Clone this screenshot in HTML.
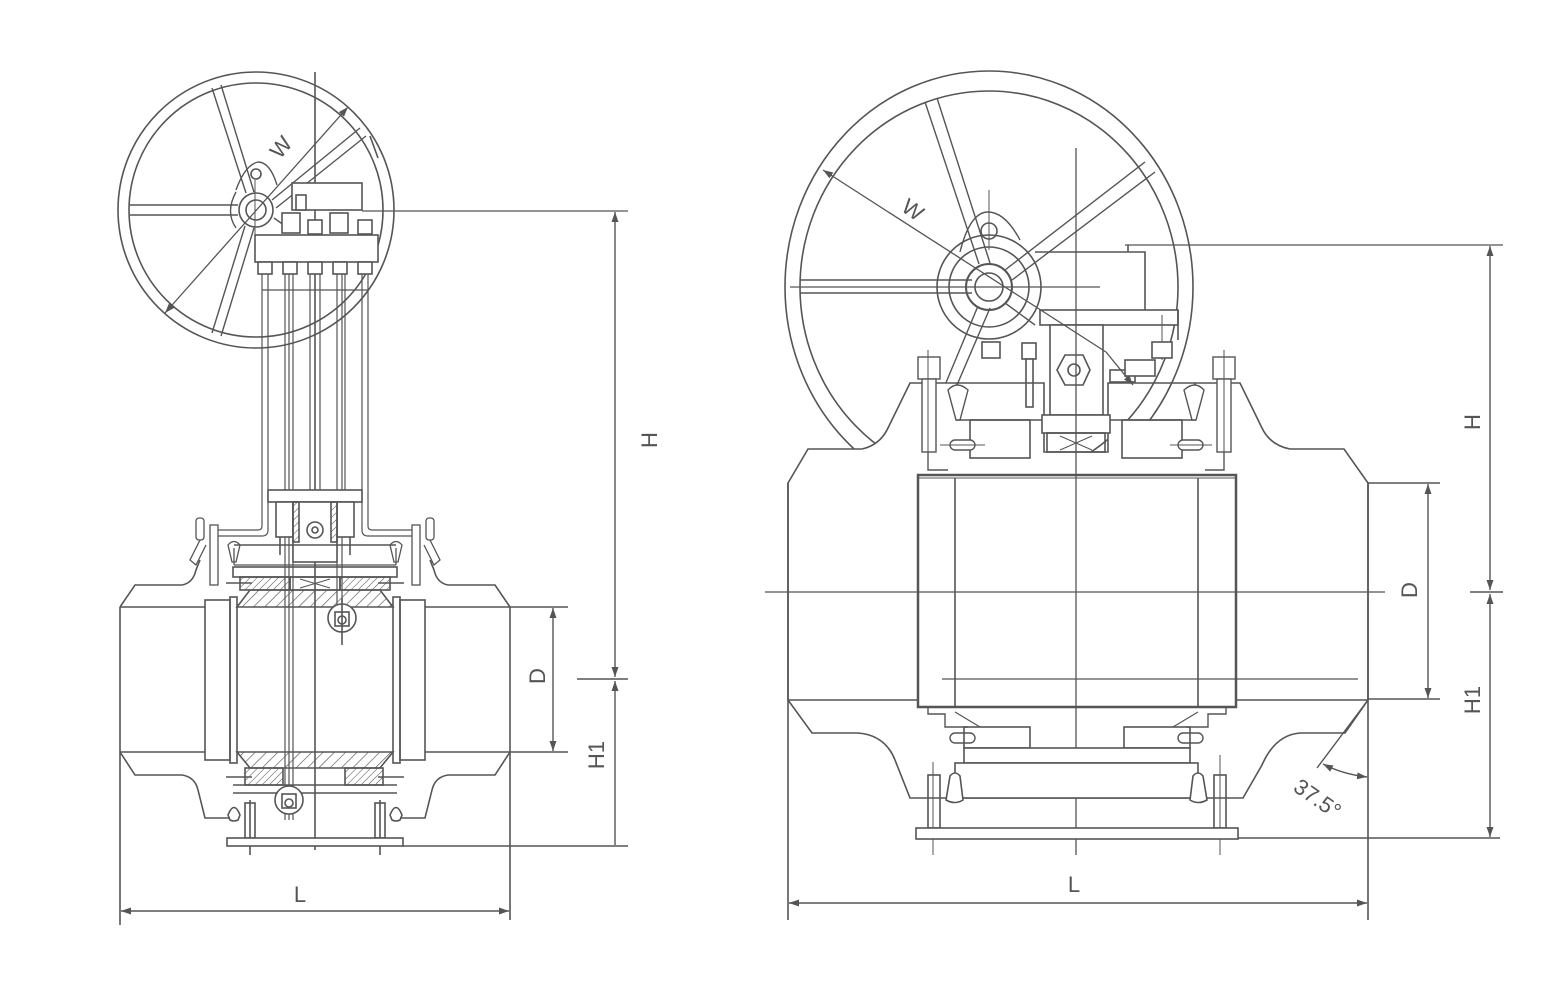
<!DOCTYPE html>
<html><head><meta charset="utf-8"><style>
html,body{margin:0;padding:0;background:#fff;}
svg{display:block;}
text{font-family:"Liberation Sans",sans-serif;fill:#555;stroke:none;font-size:22px;}
</style></head><body>
<svg width="1547" height="987" viewBox="0 0 1547 987" xmlns="http://www.w3.org/2000/svg">
<defs>
<pattern id="h1" patternUnits="userSpaceOnUse" width="8" height="8" patternTransform="rotate(45)"><line x1="0" y1="0" x2="0" y2="8" stroke="#555" stroke-width="1.3"/></pattern>
<pattern id="h2" patternUnits="userSpaceOnUse" width="5" height="5" patternTransform="rotate(45)"><line x1="0" y1="0" x2="0" y2="5" stroke="#555" stroke-width="1.1"/></pattern>
<marker id="a" viewBox="0 0 10 10" refX="10" refY="5" markerWidth="10" markerHeight="10" markerUnits="userSpaceOnUse" orient="auto-start-reverse"><path d="M0,1.5 L10,5 L0,8.5z" fill="#555" stroke="none"/></marker>
</defs>
<g fill="none" stroke="#555" stroke-width="1.6">

<!-- ================= LEFT VIEW ================= -->
<circle cx="256" cy="210" r="138"/>
<circle cx="256" cy="210" r="127"/>
<g stroke-width="1.4">
<line x1="130" y1="205" x2="238" y2="205"/><line x1="130" y1="215" x2="238" y2="215"/>
<line x1="212" y1="88" x2="246" y2="193"/><line x1="221" y1="85" x2="254" y2="192"/>
<line x1="212" y1="333" x2="245" y2="226"/><line x1="221" y1="336" x2="254" y2="228"/>
<line x1="272" y1="200" x2="360" y2="128"/><line x1="276" y1="208" x2="366" y2="136"/>
<line x1="274" y1="218" x2="295" y2="233"/>
<path d="M236,190 Q245,165 258,162 Q270,162 277,185"/>
<path d="M236,228 Q225,212 236,192"/>
</g>
<circle cx="256" cy="210" r="17"/><circle cx="256" cy="210" r="10"/>
<circle cx="256" cy="174" r="5"/>
<line x1="370" y1="136" x2="378" y2="158"/>
<line x1="315" y1="72" x2="315" y2="850"/>
<line x1="255" y1="180" x2="255" y2="240" stroke-width="1"/>
<line x1="165" y1="313" x2="348" y2="107" stroke-width="1.3" marker-start="url(#a)" marker-end="url(#a)"/>
<text x="0" y="0" transform="translate(280,160) rotate(-50)" font-size="20">W</text>
<rect x="292" y="183" width="70" height="27" fill="#fff"/>
<rect x="296" y="195" width="10" height="15" fill="#fff"/>
<rect x="255" y="235" width="123" height="27" fill="#fff"/>
<g fill="#fff">
<rect x="282" y="213" width="18" height="20"/><rect x="308" y="220" width="14" height="14"/><rect x="330" y="213" width="18" height="20"/><rect x="358" y="220" width="14" height="14"/>
<rect x="258" y="262" width="14" height="12"/><rect x="283" y="262" width="14" height="12"/><rect x="308" y="262" width="14" height="12"/><rect x="333" y="262" width="14" height="12"/><rect x="358" y="262" width="14" height="12"/>
</g>
<line x1="362" y1="211" x2="628" y2="211" stroke-width="1.3"/>
<g stroke-width="1.2">
<path d="M262,274 V526 Q262,530 258,530 H215"/><path d="M268,274 V530 Q268,536 262,536 H215"/>
<path d="M368,274 V526 Q368,530 372,530 H415"/><path d="M362,274 V530 Q362,536 368,536 H415"/>
<line x1="285" y1="274" x2="285" y2="820"/><line x1="289" y1="274" x2="289" y2="820"/><line x1="293" y1="274" x2="293" y2="820"/>
<line x1="310" y1="274" x2="310" y2="490"/><line x1="320" y1="274" x2="320" y2="490"/>
<line x1="337" y1="274" x2="337" y2="610"/><line x1="342" y1="274" x2="342" y2="610"/><line x1="345" y1="274" x2="345" y2="490"/>
<line x1="262" y1="290" x2="368" y2="290"/>
</g>
<rect x="268" y="490" width="94" height="12" fill="#fff"/>
<rect x="276" y="502" width="17" height="35" fill="#fff"/><rect x="337" y="502" width="17" height="35" fill="#fff"/>
<rect x="293" y="502" width="44" height="60" fill="#fff"/>
<rect x="293" y="502" width="6" height="40" fill="url(#h2)"/><rect x="331" y="502" width="6" height="40" fill="url(#h2)"/>
<circle cx="315" cy="530" r="8"/><circle cx="315" cy="530" r="3"/>
<line x1="280" y1="537" x2="280" y2="555"/><line x1="350" y1="537" x2="350" y2="555"/>
<line x1="234" y1="545" x2="396" y2="545"/>
<g stroke-width="1.3">
<rect x="210" y="525" width="8" height="60" fill="#fff"/><rect x="412" y="525" width="8" height="60" fill="#fff"/>
<rect x="196" y="518" width="8" height="22" rx="3"/><rect x="426" y="518" width="8" height="22" rx="3"/>
<path d="M200,540 L190,560 L196,565 L206,545"/><path d="M430,540 L440,560 L434,565 L424,545"/>
<path d="M228,545 Q234,538 240,545 L236,562 L232,562z"/><path d="M402,545 Q396,538 390,545 L394,562 L398,562z"/>
<line x1="234" y1="565" x2="234" y2="548"/><line x1="396" y1="565" x2="396" y2="548"/>
<line x1="234" y1="565" x2="396" y2="565"/>
</g>
<path d="M120,607 L135,585 L182,585 Q193,583 196,570 L200,560" />
<path d="M510,607 L495,585 L448,585 Q437,583 434,570 L430,560" />
<path d="M120,752 L135,775 L182,775 Q195,777 198,790 L205,818 L230,818"/>
<path d="M510,752 L495,775 L448,775 Q435,777 432,790 L425,818 L400,818"/>
<line x1="120" y1="607" x2="120" y2="925"/>
<line x1="510" y1="607" x2="510" y2="920"/>
<line x1="120" y1="607" x2="205" y2="607"/><line x1="425" y1="607" x2="568" y2="607"/>
<line x1="120" y1="752" x2="205" y2="752"/><line x1="425" y1="752" x2="568" y2="752"/>
<rect x="205" y="600" width="25" height="160" fill="#fff"/><rect x="400" y="600" width="25" height="160" fill="#fff"/>
<rect x="230" y="597" width="7" height="166"/><rect x="393" y="597" width="7" height="166"/>
<rect x="233" y="567" width="164" height="10"/>
<rect x="240" y="577" width="50" height="13" fill="url(#h2)"/><rect x="340" y="577" width="50" height="13" fill="url(#h2)"/>
<rect x="290" y="577" width="50" height="13"/>
<path d="M300,579 L330,588 M300,588 L330,579" stroke-width="1"/>
<path d="M237,607 L250,590 H380 L393,607z" fill="url(#h1)"/>
<line x1="226" y1="583" x2="252" y2="583"/><line x1="378" y1="583" x2="404" y2="583"/>
<path d="M237,752 L250,768 H380 L393,752z" fill="url(#h1)"/>
<rect x="245" y="768" width="38" height="17" fill="url(#h2)"/><rect x="345" y="768" width="38" height="17" fill="url(#h2)"/>
<line x1="226" y1="777" x2="252" y2="777"/><line x1="378" y1="777" x2="404" y2="777"/>
<line x1="233" y1="785" x2="397" y2="785"/><line x1="233" y1="793" x2="397" y2="793"/>
<circle cx="342" cy="618" r="14" fill="#fff"/><rect x="335" y="612" width="14" height="14"/><circle cx="342" cy="620" r="4"/>
<circle cx="289" cy="800" r="14" fill="#fff"/><rect x="282" y="794" width="14" height="14"/><circle cx="289" cy="803" r="4"/>
<line x1="342" y1="598" x2="342" y2="645"/>
<path d="M228,815 Q234,800 240,815 L238,820 Q234,822 230,820z"/><path d="M402,815 Q396,800 390,815 L392,820 Q396,822 400,820z"/>
<rect x="245" y="803" width="10" height="35"/><rect x="375" y="803" width="10" height="35"/>
<line x1="250" y1="800" x2="250" y2="855"/><line x1="380" y1="800" x2="380" y2="855"/>
<rect x="227" y="838" width="176" height="8" fill="#fff"/>
<g stroke-width="1.4">
<line x1="615" y1="212" x2="615" y2="677" marker-start="url(#a)" marker-end="url(#a)"/>
<line x1="615" y1="681" x2="615" y2="845" marker-start="url(#a)"/>
<line x1="577" y1="679" x2="628" y2="679"/>
<line x1="403" y1="846" x2="628" y2="846"/>
<line x1="553" y1="608" x2="553" y2="751" marker-start="url(#a)" marker-end="url(#a)"/>
<line x1="121" y1="911" x2="509" y2="911" marker-start="url(#a)" marker-end="url(#a)"/>
</g>
<text transform="translate(657,440) rotate(-90)" text-anchor="middle">H</text>
<text transform="translate(545,676) rotate(-90)" text-anchor="middle">D</text>
<text transform="translate(604,755) rotate(-90)" text-anchor="middle">H1</text>
<text x="300" y="902" text-anchor="middle">L</text>

<!-- ================= RIGHT VIEW ================= -->
<ellipse cx="989" cy="287" rx="204" ry="216"/>
<ellipse cx="989" cy="287" rx="189" ry="196"/>
<g stroke-width="1.4">
<line x1="800" y1="280" x2="972" y2="280"/><line x1="800" y1="293" x2="972" y2="293"/>
<line x1="925" y1="102" x2="979" y2="264"/><line x1="937" y1="98" x2="990" y2="263"/>
<line x1="945" y1="385" x2="978" y2="306"/><line x1="957" y1="385" x2="990" y2="308"/>
<line x1="1005" y1="270" x2="1145" y2="162"/><line x1="1012" y1="280" x2="1155" y2="172"/>
<line x1="1005" y1="303" x2="1035" y2="325"/>
<path d="M960,252 Q970,212 988,212 Q1005,212 1020,240"/>
</g>
<circle cx="989" cy="287" r="52"/><circle cx="989" cy="287" r="40"/>
<circle cx="989" cy="287" r="23" stroke-width="2"/><circle cx="989" cy="287" r="14"/>
<circle cx="989" cy="231" r="8"/>
<line x1="989" y1="190" x2="989" y2="250" stroke-width="1"/>
<line x1="790" y1="287" x2="1100" y2="287" stroke-width="1.2"/>
<path d="M1035,252 H1145 V310" />
<rect x="1040" y="310" width="138" height="15" fill="#fff"/>
<line x1="1178" y1="310" x2="1178" y2="340"/>
<line x1="1125" y1="245" x2="1503" y2="245" stroke-width="1.3"/>
<line x1="1128" y1="245" x2="1128" y2="252"/>
<line x1="1162" y1="315" x2="1162" y2="360" stroke-width="1"/>
<rect x="1050" y="325" width="53" height="90" fill="#fff"/>
<g fill="#fff">
<path d="M1057,370 L1065,355 H1083 L1090,370 L1083,385 H1065z"/>
<rect x="982" y="342" width="18" height="16"/><rect x="1152" y="342" width="20" height="16"/>
<rect x="1022" y="343" width="14" height="16"/><rect x="1026" y="359" width="7" height="48"/>
<rect x="1110" y="370" width="25" height="12"/><rect x="1125" y="360" width="30" height="16"/>
</g>
<circle cx="1074" cy="370" r="6"/>
<line x1="1106" y1="352" x2="1133" y2="385" stroke-width="1.3" marker-end="url(#a)"/>
<line x1="823" y1="170" x2="1106" y2="352" stroke-width="1.3" marker-start="url(#a)"/>
<text transform="translate(900,210) rotate(35)" font-size="20">W</text>
<path d="M788,483 L808,449 L862,449 Q880,445 888,428 L910,383 L957,383 L957,420 L1044,420 L1044,452 L1108,452 L1108,420 L1195,420 L1195,383 L1240,383 L1262,428 Q1270,445 1290,449 L1344,449 L1368,483 L1368,700 L1345,733 L1300,733 Q1275,735 1262,765 L1243,798 L910,798 L895,760 Q885,735 858,733 L812,733 L788,700z" fill="#fff"/>
<path d="M957,383 L1044,383 L1044,420 M1108,420 L1108,383 L1195,383" />
<rect x="1042" y="415" width="68" height="18" fill="#fff"/>
<rect x="1047" y="433" width="58" height="19"/>
<path d="M1060,436 L1092,450 M1060,450 L1092,436" stroke-width="1.1"/>
<rect x="970" y="420" width="60" height="38"/><rect x="1122" y="420" width="60" height="38"/>
<g fill="#fff" stroke-width="1.4">
<rect x="918" y="357" width="22" height="22"/><rect x="922" y="379" width="14" height="73"/>
<rect x="1213" y="357" width="22" height="22"/><rect x="1217" y="379" width="14" height="73"/>
<path d="M948,390 Q957,380 968,390 L960,420 L956,420z"/><path d="M1204,390 Q1195,380 1184,390 L1192,420 L1196,420z"/>
<rect x="950" y="440" width="25" height="10" rx="5"/><rect x="1178" y="440" width="25" height="10" rx="5"/>
<rect x="950" y="733" width="25" height="10" rx="5"/><rect x="1178" y="733" width="25" height="10" rx="5"/>
</g>
<line x1="928" y1="350" x2="928" y2="470" stroke-width="1"/><line x1="1224" y1="350" x2="1224" y2="470" stroke-width="1"/>
<line x1="940" y1="445" x2="985" y2="445" stroke-width="1"/><line x1="1170" y1="445" x2="1212" y2="445" stroke-width="1"/>
<path d="M928,452 V470 H948 M1224,452 V470 H1205" stroke-width="1.4"/>
<line x1="788" y1="483" x2="788" y2="920"/>
<line x1="1368" y1="483" x2="1368" y2="920"/>
<line x1="1368" y1="483" x2="1440" y2="483"/><line x1="1368" y1="699" x2="1440" y2="699"/>
<rect x="918" y="475" width="318" height="232" stroke-width="2.5"/>
<line x1="955" y1="478" x2="955" y2="707"/><line x1="1198" y1="478" x2="1198" y2="707"/>
<line x1="918" y1="478" x2="1236" y2="478" stroke-width="1"/>
<line x1="942" y1="679" x2="1358" y2="679" stroke-width="1.3"/>
<line x1="765" y1="592" x2="1385" y2="592" stroke-width="1.3"/>
<line x1="1076" y1="148" x2="1076" y2="855" stroke-width="1.3"/>
<line x1="788" y1="700" x2="918" y2="700"/><line x1="1236" y1="700" x2="1368" y2="700"/>
<path d="M928,707 V714 H945 V727 L968,727 M1226,707 V714 H1208 V727 L1186,727" stroke-width="1.4"/>
<path d="M955,712 L980,727 M1198,712 L1173,727" stroke-width="1.2"/>
<rect x="964" y="727" width="66" height="21"/><rect x="1124" y="727" width="66" height="21"/>
<rect x="964" y="748" width="226" height="15" fill="#fff"/>
<rect x="955" y="763" width="243" height="35" fill="#fff"/>
<path d="M946,800 L950,776 Q955,770 960,776 L963,800 Q955,805 946,800z" fill="#fff"/>
<path d="M1190,800 L1193,776 Q1198,770 1203,776 L1207,800 Q1198,805 1190,800z" fill="#fff"/>
<rect x="928" y="775" width="12" height="53"/><rect x="1214" y="775" width="12" height="53"/>
<line x1="933" y1="762" x2="933" y2="855" stroke-width="1"/><line x1="1220" y1="755" x2="1220" y2="855" stroke-width="1"/>
<rect x="916" y="828" width="322" height="11" fill="#fff"/>
<g stroke-width="1.4">
<line x1="1490" y1="246" x2="1490" y2="590" marker-start="url(#a)" marker-end="url(#a)"/>
<line x1="1470" y1="592" x2="1503" y2="592"/>
<line x1="1490" y1="594" x2="1490" y2="837" marker-start="url(#a)" marker-end="url(#a)"/>
<line x1="1238" y1="838" x2="1500" y2="838"/>
<line x1="1428" y1="484" x2="1428" y2="698" marker-start="url(#a)" marker-end="url(#a)"/>
<line x1="789" y1="903" x2="1367" y2="903" marker-start="url(#a)" marker-end="url(#a)"/>
<line x1="1368" y1="700" x2="1317" y2="768"/>
<path d="M1323,764 Q1342,774 1367,777" marker-start="url(#a)" marker-end="url(#a)"/>
</g>
<text transform="translate(1480,422) rotate(-90)" text-anchor="middle">H</text>
<text transform="translate(1417,590) rotate(-90)" text-anchor="middle">D</text>
<text transform="translate(1480,700) rotate(-90)" text-anchor="middle">H1</text>
<text x="1074" y="892" text-anchor="middle">L</text>
<text transform="translate(1292,790) rotate(35)" font-size="20">37.5°</text>
</g>
</svg>
</body></html>
